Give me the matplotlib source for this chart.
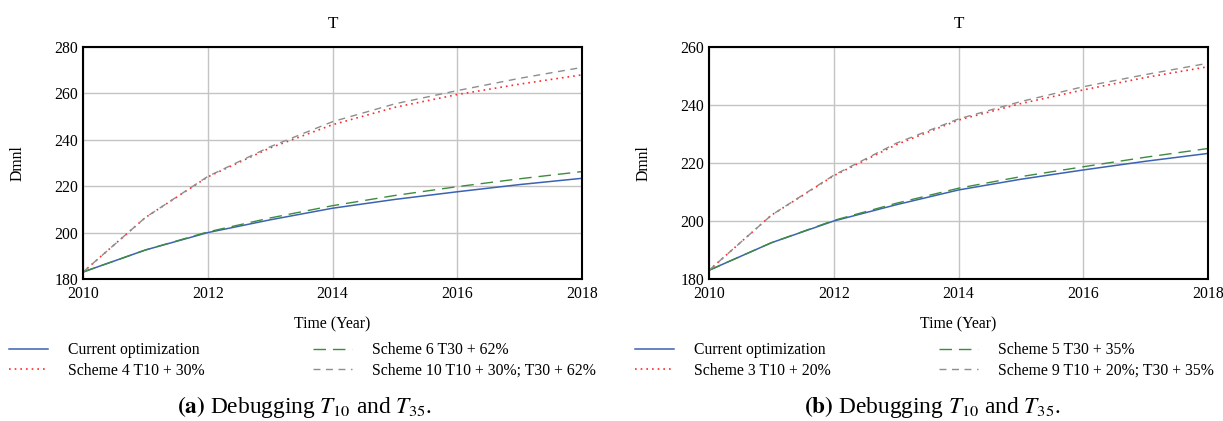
import matplotlib
matplotlib.use("Agg")
import matplotlib.pyplot as plt

plt.rcParams["font.family"] = ["Liberation Serif", "DejaVu Serif"]
plt.rcParams["mathtext.fontset"] = "stix"

# Simulation years
years = [2010, 2011, 2012, 2013, 2014, 2015, 2016, 2017, 2018]

# Panel (a)
a_current = [183.0, 192.5, 200.0, 205.5, 210.5, 214.3, 217.6, 220.7, 223.4]
a_scheme4 = [183.0, 206.5, 224.0, 236.5, 246.5, 254.0, 259.5, 264.0, 268.0]
a_scheme6 = [183.0, 192.5, 200.3, 206.3, 211.6, 216.0, 219.8, 223.2, 226.3]
a_scheme10 = [183.0, 206.5, 224.2, 237.0, 247.8, 255.5, 261.2, 266.5, 271.2]
a_labels = ["Current optimization", "Scheme 4 T10 + 30%",
            "Scheme 6 T30 + 62%", "Scheme 10 T10 + 30%; T30 + 62%"]
a_yticks = [180, 200, 220, 240, 260, 280]

# Panel (b)
b_current = [183.0, 192.5, 200.0, 205.6, 210.7, 214.4, 217.6, 220.6, 223.3]
b_scheme3 = [183.0, 202.0, 215.6, 226.3, 234.8, 240.5, 245.2, 249.5, 253.2]
b_scheme5 = [183.0, 192.5, 200.2, 206.1, 211.3, 215.3, 218.7, 222.0, 225.0]
b_scheme9 = [183.0, 202.0, 215.8, 226.8, 235.2, 241.2, 246.3, 250.5, 254.4]
b_labels = ["Current optimization", "Scheme 3 T10 + 20%",
            "Scheme 5 T30 + 35%", "Scheme 9 T10 + 20%; T30 + 35%"]
b_yticks = [180, 200, 220, 240, 260]

x_ticks = [2010, 2012, 2014, 2016, 2018]

W, H = 1223, 421
fig = plt.figure(figsize=(W / 100, H / 100), dpi=100)

FS = 11.3
C_BLUE = "#3b62b3"
C_RED = "#ff2a2a"
C_GREEN = "#3d8c3d"
C_GREY = "#8e8e8e"


def panel(left_px, series, labels, yticks, caption, cap_x, leg_x):
    ax = fig.add_axes([left_px / W, (H - 279) / H, 499 / W, 232 / H])
    cur, s1, s2, s3 = series
    l1, = ax.plot(years, cur, color=C_BLUE, lw=1.1)
    l2, = ax.plot(years, s1, color=C_RED, lw=1.2, linestyle=(0, (1, 2.4)))
    l3, = ax.plot(years, s2, color=C_GREEN, lw=1.0, linestyle=(0, (9, 5)))
    l4, = ax.plot(years, s3, color=C_GREY, lw=1.0, linestyle=(0, (5, 4)))
    ax.set_xlim(2010, 2018)
    ax.set_ylim(yticks[0], yticks[-1])
    ax.set_xticks(x_ticks)
    ax.set_yticks(yticks)
    ax.grid(True, color="#c4c4c4", lw=1.0)
    ax.set_axisbelow(True)
    for s in ax.spines.values():
        s.set_linewidth(1.5)
        s.set_color("black")
    ax.tick_params(length=0, labelsize=FS)
    ax.tick_params(axis="x", pad=5)
    ax.tick_params(axis="y", pad=3.5)
    ax.set_title("T", fontsize=FS + 1, pad=14)
    ax.set_xlabel("Time (Year)", fontsize=FS)
    ax.xaxis.set_label_coords(0.5, -0.16)
    ax.set_ylabel("Dmnl", fontsize=FS)
    ax.yaxis.set_label_coords(-0.115, 0.5)
    ax.legend([l1, l2, l3, l4], labels, ncol=2, frameon=False,
              loc="upper left", bbox_to_anchor=(leg_x / W, (H - 342) / H),
              bbox_transform=fig.transFigure, borderaxespad=0, borderpad=0,
              fontsize=FS, handlelength=2.5, handletextpad=1.25,
              columnspacing=6.9, labelspacing=0.3)
    fig.text(cap_x / W, (H - 407) / H, caption, fontsize=16.8,
             ha="center", va="center")
    return ax


panel(83, (a_current, a_scheme4, a_scheme6, a_scheme10), a_labels, a_yticks,
      r"$\mathbf{(a)}$ Debugging $T_{10}$ and $T_{35}$.", 305, 9)
panel(709, (b_current, b_scheme3, b_scheme5, b_scheme9), b_labels, b_yticks,
      r"$\mathbf{(b)}$ Debugging $T_{10}$ and $T_{35}$.", 932, 635)

fig.savefig("out.png", dpi=100)
